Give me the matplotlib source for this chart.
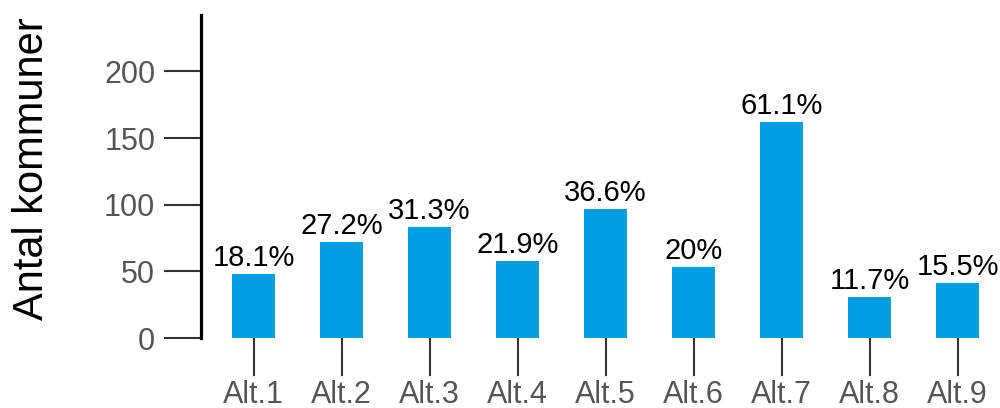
import matplotlib
matplotlib.use("Agg")
import matplotlib.pyplot as plt

categories = ["Alt.1", "Alt.2", "Alt.3", "Alt.4", "Alt.5", "Alt.6", "Alt.7", "Alt.8", "Alt.9"]
counts = [48, 72, 83, 58, 97, 53, 162, 31, 41]
percent_labels = ["18.1%", "27.2%", "31.3%", "21.9%", "36.6%", "20%", "61.1%", "11.7%", "15.5%"]
y_ticks = [0, 50, 100, 150, 200]

plt.rcParams['font.family'] = ['Liberation Sans', 'DejaVu Sans']

fig = plt.figure(figsize=(10, 4.08), dpi=100)
ax = fig.add_axes([0.201, 1 - 338 / 408, 0.799, (338 - 15) / 408])

x = list(range(len(categories)))
bars = ax.bar(x, counts, width=0.49, color="#009fe3")

for xi, c, lab in zip(x, counts, percent_labels):
    ax.annotate(lab, (xi, c), xytext=(0, 1.5), textcoords="offset points",
                ha="center", va="bottom", fontsize=21, color="black")

ax.set_xlim(-0.597, 8.48)
ax.set_ylim(0, 242.4)
ax.set_xticks(x)
ax.set_xticklabels(categories)
ax.set_yticks(y_ticks)

for s in ["top", "right", "bottom"]:
    ax.spines[s].set_visible(False)
ax.spines["left"].set_linewidth(2.3)
ax.spines["left"].set_color("black")

ax.tick_params(axis="both", length=27, width=1.5, color="#333333",
               labelsize=22, labelcolor="#555555")
ax.tick_params(axis="y", pad=6)
ax.tick_params(axis="x", pad=3)

ax.set_ylabel("Antal kommuner", fontsize=30, color="black")
ax.yaxis.set_label_coords(-0.186, 0.523)

fig.savefig("out.png", dpi=100)
